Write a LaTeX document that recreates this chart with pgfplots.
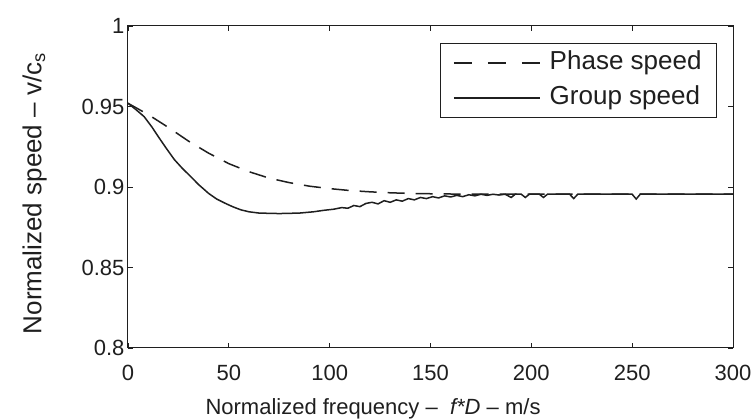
\documentclass[border=0pt]{standalone}
\usepackage{pgfplots}
\pgfplotsset{compat=1.18}
\usepackage{fontspec}
\setmainfont{Liberation Sans}
\definecolor{ln}{gray}{0.12}
\begin{document}
\begin{tikzpicture}
\path[use as bounding box] (-128pt,-71pt) rectangle (626pt,348pt);
\begin{axis}[
  at={(0pt,0pt)}, anchor=south west,
  scale only axis, width=605pt, height=322pt,
  xmin=0, xmax=300, ymin=0.8, ymax=1,
  xtick={0,50,...,300}, ytick={0.8,0.85,0.9,0.95,1},
  yticklabels={0.8,0.85,0.9,0.95,1},
  tick align=inside, tick pos=both,
  major tick length=5pt,
  axis line style={ln, line width=1pt},
  tick style={ln, line width=0.8pt},
  /pgf/number format/assume math mode=true,
  ticklabel style={font=\fontsize{22}{26}\selectfont, text=ln},
  xticklabel style={yshift=-14pt},
  xlabel={Normalized frequency \textendash\ \ \textit{f*D} \textendash\ m/s},
  ylabel={Normalized speed \textendash\ v/c$_{\mathrm{s}}$},
  xlabel style={font=\fontsize{22}{26}\selectfont, text=ln,
    at={(axis description cs:0.405,-0.205)}, anchor=base},
  ylabel style={font=\fontsize{26}{30}\selectfont, text=ln,
    at={(axis description cs:-0.143,0.48)}, anchor=base},
  legend style={at={(0.9736,0.947)}, anchor=north east, draw=ln, line width=1pt,
    font=\fontsize{26}{30}\selectfont, text=ln, inner xsep=13pt, inner ysep=5pt,
    row sep=6pt, column sep=7pt, nodes={inner sep=2pt, text height=19pt, text depth=6pt}},
  legend cell align=left,
  legend image code/.code={\draw[#1] (0pt,0pt) -- (86pt,0pt);},
]
\addplot[ln, line width=1.5pt, dash pattern=on 17pt off 11pt,
  legend image code/.code={\draw[ln, line width=1.5pt, dash pattern=on 18pt off 16pt] (0pt,0pt) -- (86pt,0pt);}] coordinates {
(0,0.952) (10,0.945) (20,0.937) (30,0.9285) (40,0.921) (50,0.9145) (60,0.9095)
(70,0.9055) (80,0.9027) (90,0.9005) (100,0.899) (110,0.8978) (120,0.897)
(130,0.8964) (140,0.896) (155,0.8957) (175,0.8955) (300,0.8955)};
\addlegendentry{Phase speed}
\addplot[ln, line width=1.5pt] coordinates {
(0,0.952) (4,0.948) (8,0.9437) (12,0.937) (15,0.9313) (19,0.924) (23,0.917)
(27,0.9115) (31,0.9066) (35,0.9015) (40,0.896) (44,0.8925) (48,0.89) (52,0.8877)
(56,0.8858) (60,0.8846) (65,0.8838) (75,0.8835) (85,0.8838) (92,0.8846)
(97,0.8855) (102,0.8862) (106,0.8872) (109,0.8868) (112,0.8885) (115,0.8878)
(118,0.8898) (121,0.8905) (124,0.8895) (127,0.8915) (130,0.8905) (133,0.892)
(136,0.8912) (139,0.8928) (142,0.892) (145,0.8935) (148,0.8928) (151,0.894)
(154,0.8932) (157,0.8945) (160,0.8938) (163,0.8948) (166,0.894) (169,0.8952)
(172,0.8945) (175,0.8955) (178,0.8948) (181,0.8955) (184,0.895) (187,0.8955)
(190,0.8935) (192,0.8955) (195,0.8955) (197,0.8935) (199,0.8955) (204,0.8955)
(206,0.8935) (208,0.8955) (219,0.8955) (221,0.8928) (223,0.8955) (250,0.8955)
(252,0.8925) (254,0.8955) (300,0.8955)};
\addlegendentry{Group speed}
\end{axis}
\end{tikzpicture}
\end{document}
